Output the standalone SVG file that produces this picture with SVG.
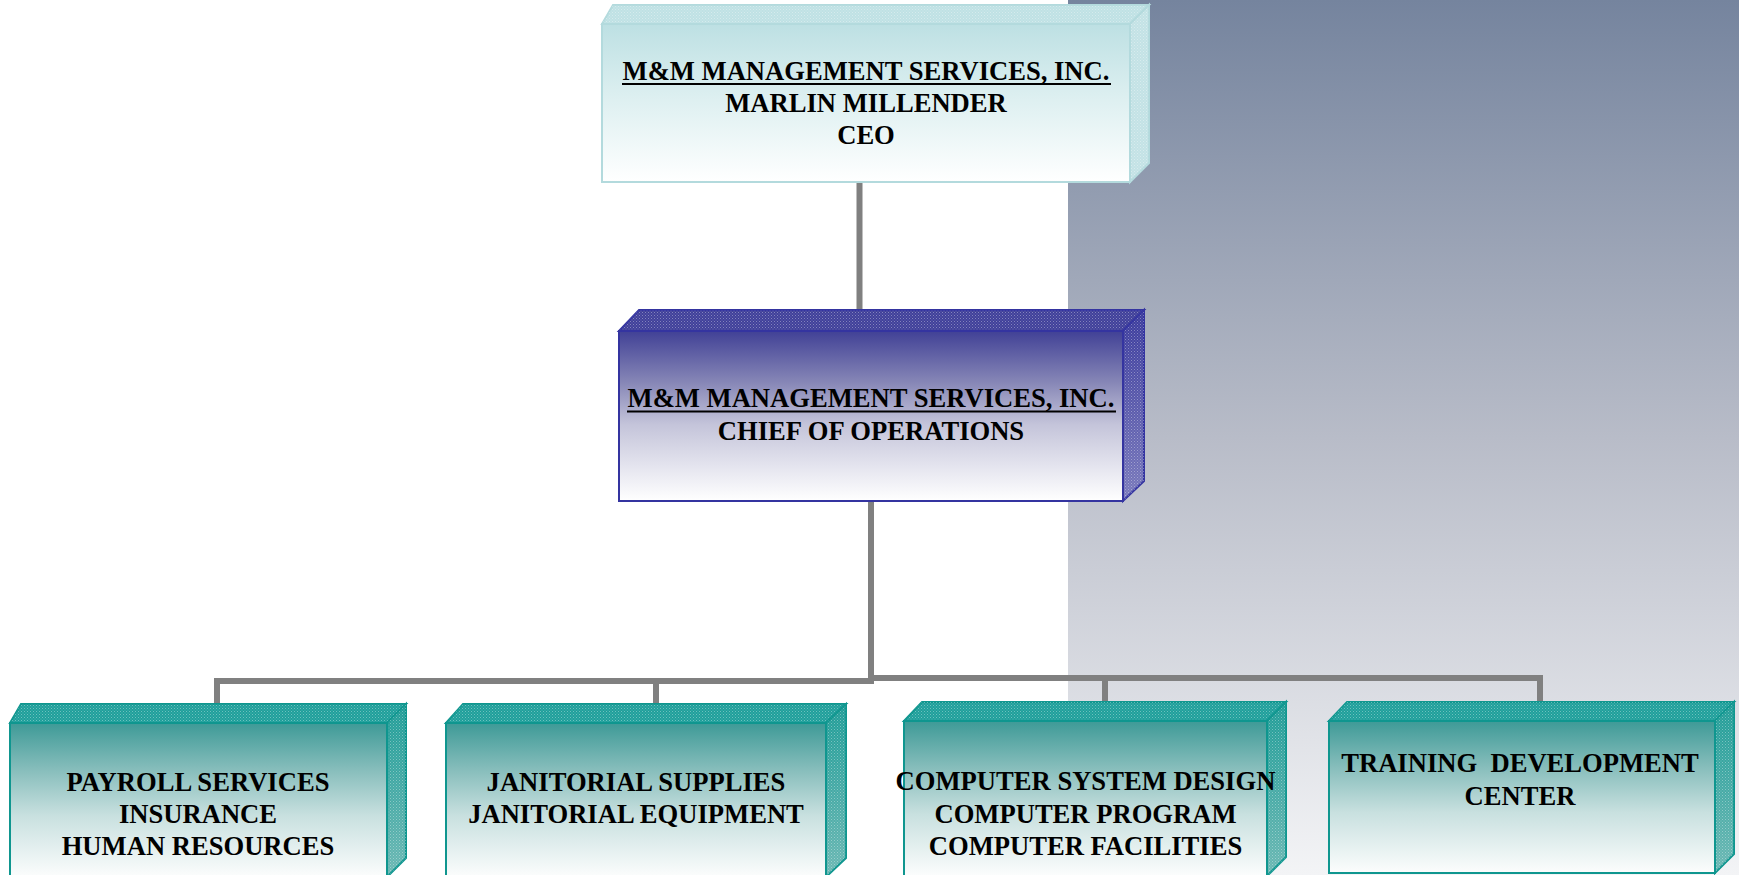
<svg xmlns="http://www.w3.org/2000/svg" width="1739" height="875" viewBox="0 0 1739 875">
<style>
  .t { font-family: "Liberation Serif", "Times New Roman", serif; font-weight: bold; font-size: 26.6px; fill: #000; text-anchor: middle; white-space: pre; }
  .ul { stroke: #000; stroke-width: 2.2; }
  .conn { fill: none; stroke: #808080; stroke-width: 6; stroke-linejoin: miter; stroke-linecap: butt; }
  .ceo-s { stroke: #b3dadd; stroke-width: 2; stroke-linejoin: miter; }
  .coo-s { stroke: #3434a0; stroke-width: 2; stroke-linejoin: miter; }
  .dep-s { stroke: #0f968f; stroke-width: 2; stroke-linejoin: miter; }
</style>
<defs>
  <linearGradient id="bg" x1="0" y1="0" x2="0" y2="1">
    <stop offset="0" stop-color="#75849e"/>
    <stop offset="0.5" stop-color="#b8bcc8"/>
    <stop offset="1" stop-color="#f3f4f6"/>
  </linearGradient>
  <linearGradient id="ceoFront" x1="0" y1="0" x2="0" y2="1">
    <stop offset="0" stop-color="#bde0e3"/>
    <stop offset="0.45" stop-color="#dceff0"/>
    <stop offset="1" stop-color="#ffffff"/>
  </linearGradient>
  <linearGradient id="cooFront" x1="0" y1="0" x2="0" y2="1">
    <stop offset="0" stop-color="#414196"/>
    <stop offset="0.3" stop-color="#8686b6"/>
    <stop offset="0.55" stop-color="#c4c4da"/>
    <stop offset="1" stop-color="#ffffff"/>
  </linearGradient>
  <linearGradient id="depFront" x1="0" y1="0" x2="0" y2="1">
    <stop offset="0" stop-color="#3e9a97"/>
    <stop offset="0.3" stop-color="#86bdbb"/>
    <stop offset="0.6" stop-color="#c8e0df"/>
    <stop offset="1" stop-color="#fcfdfd"/>
  </linearGradient>
  <linearGradient id="cooSide" x1="0" y1="0" x2="0" y2="1">
    <stop offset="0" stop-color="#3a3a9c"/>
    <stop offset="1" stop-color="#7a7abc"/>
  </linearGradient>
  <linearGradient id="depSide" x1="0" y1="0" x2="0" y2="1">
    <stop offset="0" stop-color="#1f9c97"/>
    <stop offset="1" stop-color="#6cb8b4"/>
  </linearGradient>
  <pattern id="dots" width="3" height="3" patternUnits="userSpaceOnUse">
    <rect x="0" y="0" width="1" height="1" fill="#ffffff" fill-opacity="0.35"/>
    <rect x="1.5" y="1.5" width="1" height="1" fill="#ffffff" fill-opacity="0.25"/>
  </pattern>
</defs>

<rect x="0" y="0" width="1739" height="875" fill="#ffffff"/>
<rect x="1068" y="0" width="671" height="875" fill="url(#bg)"/>

<g id="connectors">
  <path class="conn" d="M859.5 182 V311"/>
  <path class="conn" d="M871 501 V684"/>
  <path class="conn" d="M217 724 V681 H871"/>
  <path class="conn" d="M656 681 V724"/>
  <path class="conn" d="M871 678 H1540 V722"/>
  <path class="conn" d="M1105 678 V722"/>
</g>

<g id="ceo">
  <polygon points="602,24 613,5 1149,5 1130,24" fill="#bfe1e4" class="ceo-s"/>
  <polygon points="602,24 613,5 1149,5 1130,24" fill="url(#dots)"/>
  <polygon points="1130,24 1149,5 1149,163 1130,182" fill="#c3e2e5" class="ceo-s"/>
  <polygon points="1130,24 1149,5 1149,163 1130,182" fill="url(#dots)"/>
  <rect x="602" y="24" width="528" height="158" fill="url(#ceoFront)" class="ceo-s"/>
  <text class="t" x="866" y="80">M&amp;M MANAGEMENT SERVICES, INC.</text>
  <line class="ul" x1="622" y1="84" x2="1111" y2="84"/>
  <text class="t" x="866" y="112">MARLIN MILLENDER</text>
  <text class="t" x="866" y="144">CEO</text>
</g>

<g id="coo">
  <polygon points="619,331 639,310 1144,310 1123,331" fill="#40409a" class="coo-s"/>
  <polygon points="619,331 639,310 1144,310 1123,331" fill="url(#dots)"/>
  <polygon points="1123,331 1144,310 1144,481 1123,501" fill="url(#cooSide)" class="coo-s"/>
  <polygon points="1123,331 1144,310 1144,481 1123,501" fill="url(#dots)"/>
  <rect x="619" y="331" width="504" height="170" fill="url(#cooFront)" class="coo-s"/>
  <text class="t" x="871" y="407">M&amp;M MANAGEMENT SERVICES, INC.</text>
  <line class="ul" x1="627" y1="411.5" x2="1116" y2="411.5"/>
  <text class="t" x="871" y="439.5">CHIEF OF OPERATIONS</text>
</g>

<g id="payroll">
  <polygon points="10,723 21,704 406,704 387,723" fill="#1f9f9b" class="dep-s"/>
  <polygon points="10,723 21,704 406,704 387,723" fill="url(#dots)"/>
  <polygon points="387,723 406,704 406,858 387,877" fill="url(#depSide)" class="dep-s"/>
  <polygon points="387,723 406,704 406,858 387,877" fill="url(#dots)"/>
  <rect x="10" y="723" width="377" height="154" fill="url(#depFront)" class="dep-s"/>
  <text class="t" x="198" y="791">PAYROLL SERVICES</text>
  <text class="t" x="198" y="823">INSURANCE</text>
  <text class="t" x="198" y="855">HUMAN RESOURCES</text>
</g>

<g id="janitorial">
  <polygon points="446,723 463,704 846,704 826,723" fill="#1f9f9b" class="dep-s"/>
  <polygon points="446,723 463,704 846,704 826,723" fill="url(#dots)"/>
  <polygon points="826,723 846,704 846,858 826,877" fill="url(#depSide)" class="dep-s"/>
  <polygon points="826,723 846,704 846,858 826,877" fill="url(#dots)"/>
  <rect x="446" y="723" width="380" height="154" fill="url(#depFront)" class="dep-s"/>
  <text class="t" x="636" y="791">JANITORIAL SUPPLIES</text>
  <text class="t" x="636" y="823">JANITORIAL EQUIPMENT</text>
</g>

<g id="computer">
  <polygon points="904,721 922,702 1286,702 1267,721" fill="#1f9f9b" class="dep-s"/>
  <polygon points="904,721 922,702 1286,702 1267,721" fill="url(#dots)"/>
  <polygon points="1267,721 1286,702 1286,857 1267,876" fill="url(#depSide)" class="dep-s"/>
  <polygon points="1267,721 1286,702 1286,857 1267,876" fill="url(#dots)"/>
  <rect x="904" y="721" width="363" height="155" fill="url(#depFront)" class="dep-s"/>
  <text class="t" x="1085.5" y="790">COMPUTER SYSTEM DESIGN</text>
  <text class="t" x="1085.5" y="823">COMPUTER PROGRAM</text>
  <text class="t" x="1085.5" y="855">COMPUTER FACILITIES</text>
</g>

<g id="training">
  <polygon points="1329,721 1347,702 1734,702 1715,721" fill="#1f9f9b" class="dep-s"/>
  <polygon points="1329,721 1347,702 1734,702 1715,721" fill="url(#dots)"/>
  <polygon points="1715,721 1734,702 1734,854 1715,873" fill="url(#depSide)" class="dep-s"/>
  <polygon points="1715,721 1734,702 1734,854 1715,873" fill="url(#dots)"/>
  <rect x="1329" y="721" width="386" height="152" fill="url(#depFront)" class="dep-s"/>
  <text class="t" x="1520" y="772">TRAINING  DEVELOPMENT</text>
  <text class="t" x="1520" y="805">CENTER</text>
</g>
</svg>
